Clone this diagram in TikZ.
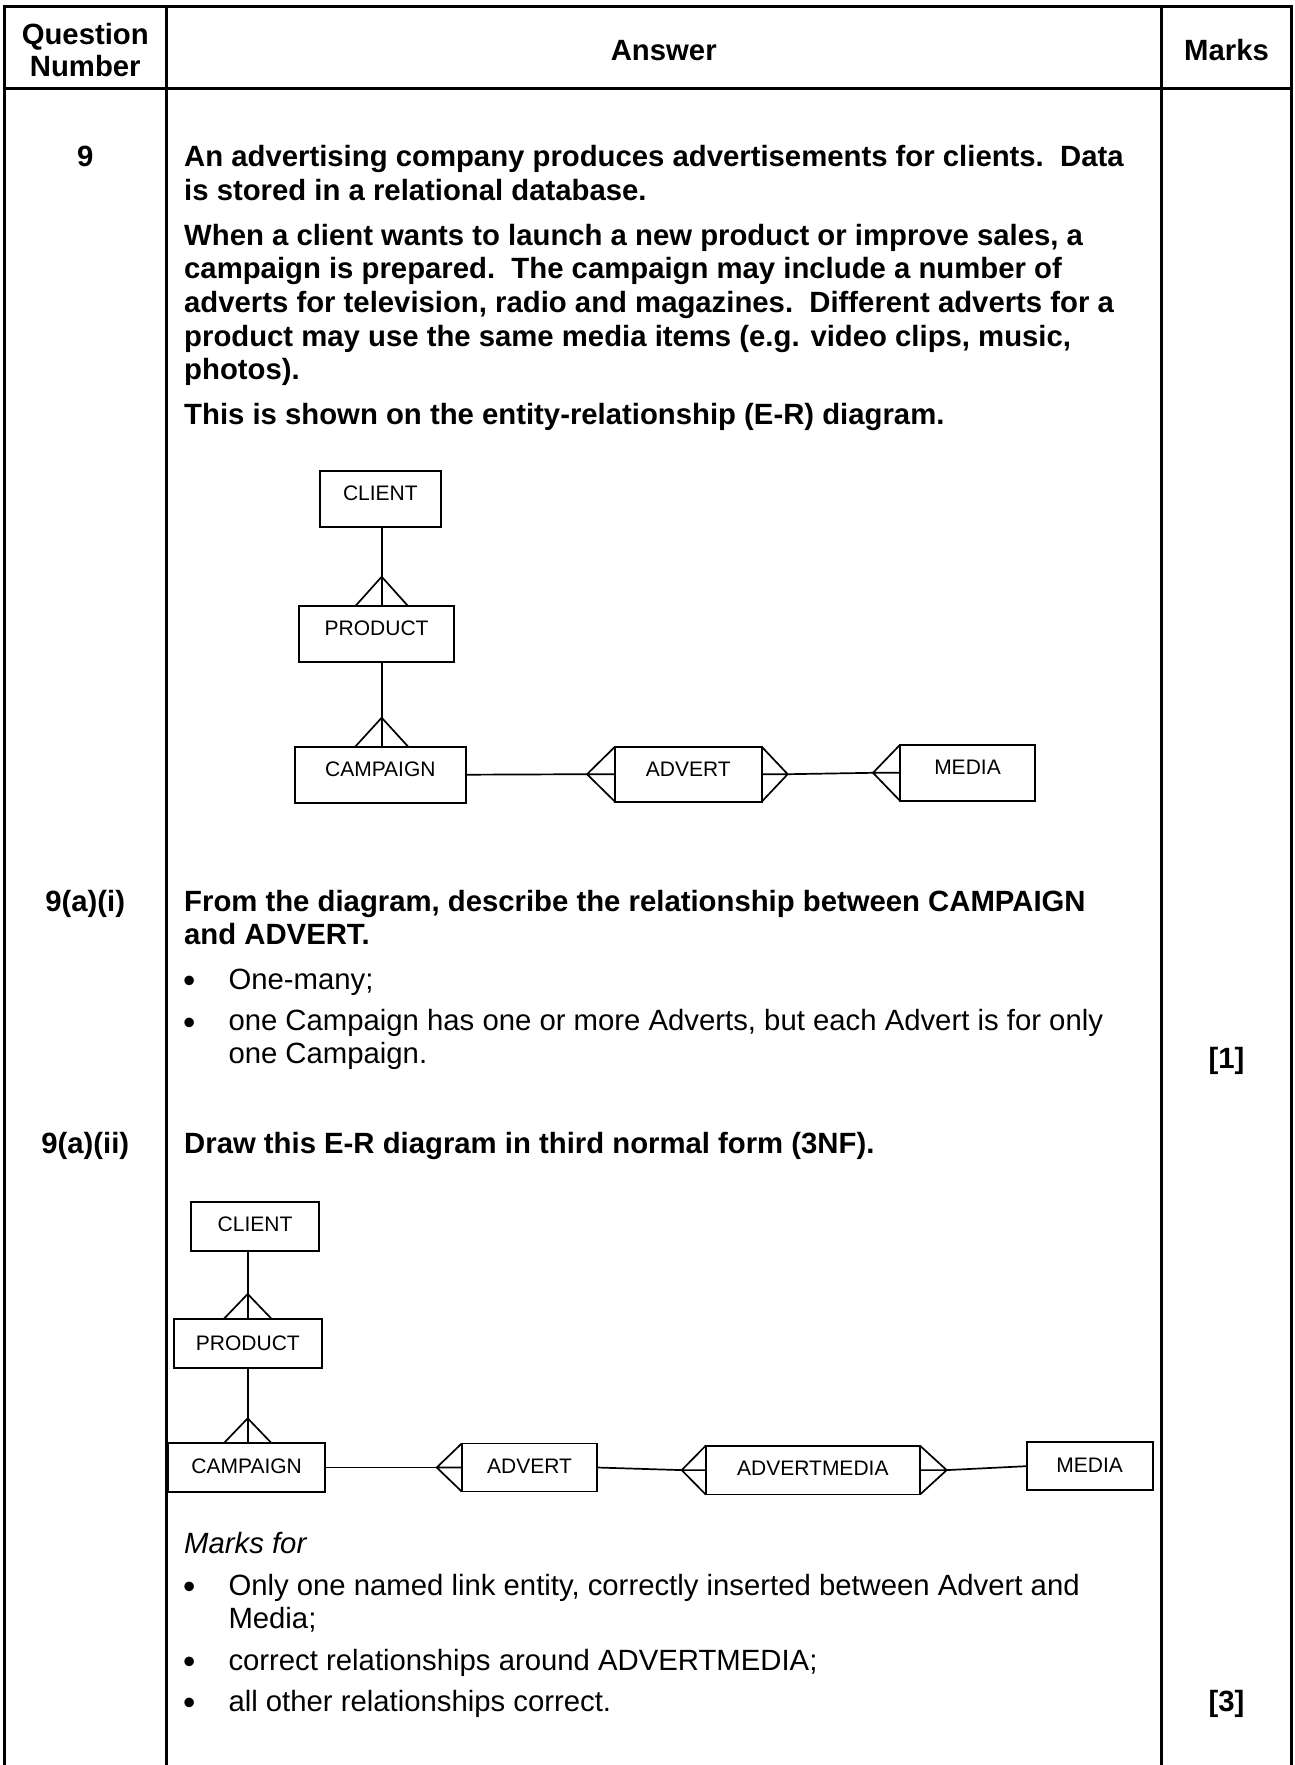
\documentclass[tikz,border=0pt]{standalone}
\usepackage{fontspec}
\setmainfont{Liberation Sans}
\usetikzlibrary{calc}
\newcommand\bodysize{\fontsize{29.3pt}{33.7pt}\selectfont}
\newcommand\diagsize{\fontsize{21pt}{25pt}\selectfont}
\newcommand\bulsize{\fontsize{35pt}{40pt}\selectfont}
\newcommand\mybullet{\raisebox{-3.6pt}{•}}
\begin{document}
\begin{tikzpicture}[x=1pt,y=-1pt,
  txt/.style={anchor=base west, inner sep=0pt, font=\bodysize},
  btxt/.style={anchor=base west, inner sep=0pt, font=\bodysize\bfseries},
  itxt/.style={anchor=base west, inner sep=0pt, font=\bodysize\itshape},
  ctr/.style={anchor=base, inner sep=0pt, font=\bodysize\bfseries},
  bul/.style={anchor=base, inner sep=0pt, font=\bulsize},
  rule/.style={line width=3pt},
  ent/.style={draw, line width=1.7pt, rectangle, anchor=north west, inner sep=0pt, outer sep=0pt, font=\diagsize, text height=30pt},
  link/.style={line width=1.7pt}
]
\useasboundingbox (0,0) rectangle (1294,1765);
\fill[white] (0,0) rectangle (1294,1765);

% table rules
\draw[rule] (3,6.5) -- (1293,6.5);
\draw[rule] (3,88) -- (1293,88);
\draw[rule] (4.5,5) -- (4.5,1765);
\draw[rule] (166,5) -- (166,1765);
\draw[rule] (1161.5,5) -- (1161.5,1765);
\draw[rule] (1291.5,5) -- (1291.5,1765);

% header
\node[ctr] (hq1) at (85.25,44.6) {Question};
\node[ctr] (hq2) at (85.25,76.2) {Number};
\node[ctr] (ha) at (663.75,60) {Answer};
\node[ctr] (hm) at (1226.5,60) {Marks};

% question 9
\node[ctr] (q9) at (85.25,166.5) {9};
\node[btxt] (t1) at (184,166.5) {An advertising company produces advertisements for clients.\ \ Data};
\node[btxt] (t2) at (184,200.2) {is stored in a relational database.};
\node[btxt] (t3) at (184,245) {When a client wants to launch a new product or improve sales, a};
\node[btxt] (t4) at (184,278.7) {campaign is prepared.\ \ The campaign may include a number of};
\node[btxt] (t5) at (184,312.4) {adverts for television, radio and magazines.\ \ Different adverts for a};
\node[btxt] (t6) at (184,346.1) {product may use the same media items (e.g. video clips, music,};
\node[btxt] (t7) at (184,379.8) {photos).};
\node[btxt] (t8) at (184,424) {This is shown on the entity-relationship (E-R) diagram.};

% diagram 1
\node[ent, minimum width=120.7pt, text depth=26pt] (c1) at (320,470.7) {CLIENT};
\node[ent, minimum width=154.7pt, text depth=26pt] (p1) at (299.3,605.7) {PRODUCT};
\node[ent, minimum width=170.7pt, text depth=26pt] (cp1) at (295,746.7) {CAMPAIGN};
\node[ent, minimum width=146.7pt, text depth=25pt] (a1) at (615,746.7) {ADVERT};
\node[ent, minimum width=135pt, text depth=26pt] (m1) at (900,744.8) {MEDIA};
\coordinate (v1) at (381.7,0);
\draw[link] (c1.south -| v1) -- (p1.north -| v1);
\draw[link] (p1.south -| v1) -- (cp1.north -| v1);
\coordinate (k1) at ($(p1.north -| v1)+(0,-29)$);
\draw[link] ($(k1)+(-26,29)$) -- (k1) -- ($(k1)+(26,29)$);
\coordinate (k2) at ($(cp1.north -| v1)+(0,-29)$);
\draw[link] ($(k2)+(-26.5,29)$) -- (k2) -- ($(k2)+(26.5,29)$);
\coordinate (k3) at ($(a1.west)+(-28,0)$);
\draw[link] (a1.north west) -- (k3) -- (a1.south west) (k3) -- (a1.west);
\draw[link] (cp1.east) -- (k3);
\coordinate (k4) at ($(a1.east)+(26,0)$);
\draw[link] (a1.north east) -- (k4) -- (a1.south east) (k4) -- (a1.east);
\coordinate (k5) at ($(m1.west)+(-27,0)$);
\draw[link] (m1.north west) -- (k5) -- (m1.south west) (k5) -- (m1.west);
\draw[link] (k4) -- (k5);

% 9(a)(i)
\node[ctr] (q9a) at (85.25,911) {9(a)(i)};
\node[btxt] (u1) at (184,911) {From the diagram, describe the relationship between CAMPAIGN};
\node[btxt] (u2) at (184,944.3) {and ADVERT.};
\node[bul] (b1) at (189.3,989) {\mybullet};
\node[txt] (u3) at (228.3,989) {One-many;};
\node[bul] (b2) at (189.3,1030.5) {\mybullet};
\node[txt] (u4) at (228.3,1030.5) {one Campaign has one or more Adverts, but each Advert is for only};
\node[txt] (u5) at (228.3,1063.8) {one Campaign.};
\node[ctr] (mk1) at (1226.5,1068.5) {[1]};

% 9(a)(ii)
\node[ctr] (q9b) at (85.25,1153.3) {9(a)(ii)};
\node[btxt] (w1) at (184,1153.3) {Draw this E-R diagram in third normal form (3NF).};

% diagram 2
\node[ent, minimum width=128.6pt, text depth=19pt] (c2) at (190.7,1201.7) {CLIENT};
\node[ent, minimum width=147.7pt, text height=31pt, text depth=18.3pt] (p2) at (174,1319) {PRODUCT};
\node[ent, minimum width=156.7pt, text depth=18.4pt] (cp2) at (168.3,1443.3) {CAMPAIGN};
\node[ent, minimum width=135.6pt, text depth=18pt] (a2) at (461.7,1443.5) {ADVERT};
\node[ent, minimum width=214.3pt, text height=29.3pt, text depth=19.5pt] (am2) at (705.7,1445.7) {ADVERTMEDIA};
\node[ent, minimum width=126pt, text depth=18.3pt] (m2) at (1026.7,1442) {MEDIA};
\coordinate (v2) at (247.7,0);
\draw[link] (c2.south -| v2) -- (p2.north -| v2);
\draw[link] (p2.south -| v2) -- (cp2.north -| v2);
\coordinate (j1) at ($(p2.north -| v2)+(0,-25)$);
\draw[link] ($(j1)+(-24,25)$) -- (j1) -- ($(j1)+(24,25)$);
\coordinate (j2) at ($(cp2.north -| v2)+(0,-25)$);
\draw[link] ($(j2)+(-24,25)$) -- (j2) -- ($(j2)+(24,25)$);
\coordinate (j3) at ($(a2.west)+(-25,0)$);
\draw[link] (a2.north west) -- (j3) -- (a2.south west) (j3) -- (a2.west);
\draw[link] (cp2.east) -- (j3);
\coordinate (j4) at ($(am2.west)+(-24,0)$);
\draw[link] (am2.north west) -- (j4) -- (am2.south west) (j4) -- (am2.west);
\draw[link] (a2.east) -- (j4);
\coordinate (j5) at ($(am2.east)+(26.7,0)$);
\draw[link] (am2.north east) -- (j5) -- (am2.south east) (j5) -- (am2.east);
\draw[link] (j5) -- (m2.west);

% marks for
\node[itxt] (x1) at (184,1553) {Marks for};
\node[bul] (b3) at (189.3,1595) {\mybullet};
\node[txt] (x2) at (228.3,1595) {Only one named link entity, correctly inserted between Advert and};
\node[txt] (x3) at (228.3,1628.3) {Media;};
\node[bul] (b4) at (189.3,1670) {\mybullet};
\node[txt] (x4) at (228.3,1670) {correct relationships around ADVERTMEDIA;};
\node[bul] (b5) at (189.3,1711) {\mybullet};
\node[txt] (x5) at (228.3,1711) {all other relationships correct.};
\node[ctr] (mk3) at (1226.5,1711) {[3]};
\end{tikzpicture}
\end{document}
